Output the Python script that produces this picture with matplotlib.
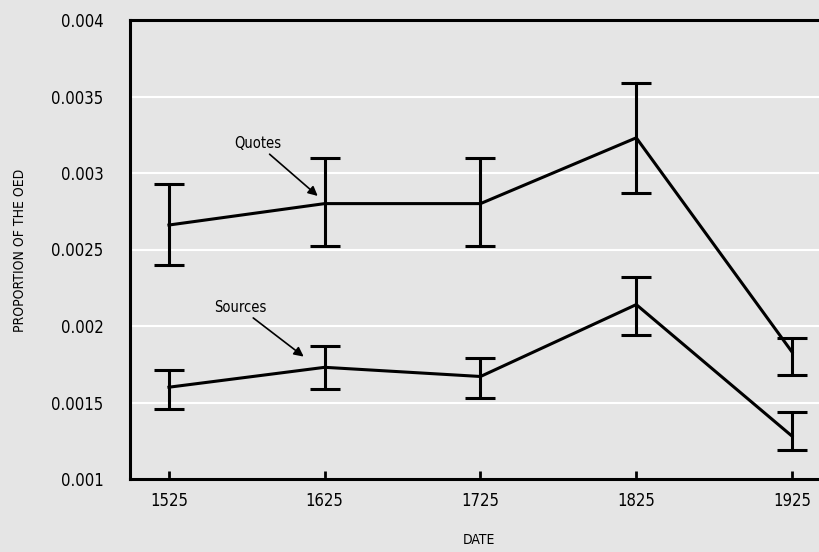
import matplotlib.pyplot as plt

# dates and proportions with error bar limits
dates = [1525, 1625, 1725, 1825, 1925]

quotes = [0.00266, 0.0028, 0.0028, 0.00323, 0.00183]
quotes_lo = [0.0024, 0.00252, 0.00252, 0.00287, 0.00168]
quotes_hi = [0.00293, 0.0031, 0.0031, 0.00359, 0.00192]

sources = [0.0016, 0.00173, 0.00167, 0.00214, 0.00128]
sources_lo = [0.00146, 0.00159, 0.00153, 0.00194, 0.00119]
sources_hi = [0.00171, 0.00187, 0.00179, 0.00232, 0.00144]

yticks = [0.001, 0.0015, 0.002, 0.0025, 0.003, 0.0035, 0.004]
ytick_labels = ['0.001', '0.0015', '0.002', '0.0025', '0.003', '0.0035', '0.004']

plt.rcParams['font.family'] = ['DejaVu Sans']
plt.rcParams['font.stretch'] = 'condensed'
bg = '#e5e5e5'

fig = plt.figure(figsize=(8.2, 5.52), dpi=100, facecolor=bg)
ax = fig.add_axes([130 / 820, 1 - 479 / 552, 701 / 820, 459 / 552])
ax.set_facecolor(bg)

for vals, lo, hi in [(quotes, quotes_lo, quotes_hi), (sources, sources_lo, sources_hi)]:
    err = [[v - l for v, l in zip(vals, lo)], [h - v for v, h in zip(vals, hi)]]
    ax.errorbar(dates, vals, yerr=err, color='black', lw=2.2, elinewidth=2.2,
                capsize=10.8, capthick=2.2, zorder=3)

ax.set_xlim(1500, 1950)
ax.set_ylim(0.001, 0.004)
ax.set_xticks(dates)
ax.set_xticklabels([str(d) for d in dates], fontsize=12)
ax.set_yticks(yticks)
ax.set_yticklabels(ytick_labels, fontsize=12)
ax.tick_params(axis='x', direction='in', length=6, width=2, pad=9)
ax.tick_params(axis='y', length=0, pad=19)
ax.grid(axis='y', color='white', lw=1.5)
ax.set_axisbelow(True)
for s in ax.spines.values():
    s.set_linewidth(2.2)
    s.set_color('black')

# axis titles placed on the figure
fig.text(479 / 820, 1 - 540 / 552, 'DATE', fontsize=10, ha='center', va='center')
fig.text(20 / 820, 1 - 250 / 552, 'PROPORTION OF THE OED', fontsize=10,
         ha='center', va='center', rotation=90)

arrow = dict(arrowstyle='-|>', color='black', lw=1.2, mutation_scale=14, shrinkA=0, shrinkB=0)
ax.annotate('Quotes', xy=(1620.5, 0.00285), xytext=(1582, 0.00319),
            fontsize=10.5, ha='center', va='center', arrowprops=arrow)
ax.annotate('Sources', xy=(1611.5, 0.0018), xytext=(1570.5, 0.00212),
            fontsize=10.5, ha='center', va='center', arrowprops=arrow)

fig.savefig('out.png', dpi=100, facecolor=bg)
